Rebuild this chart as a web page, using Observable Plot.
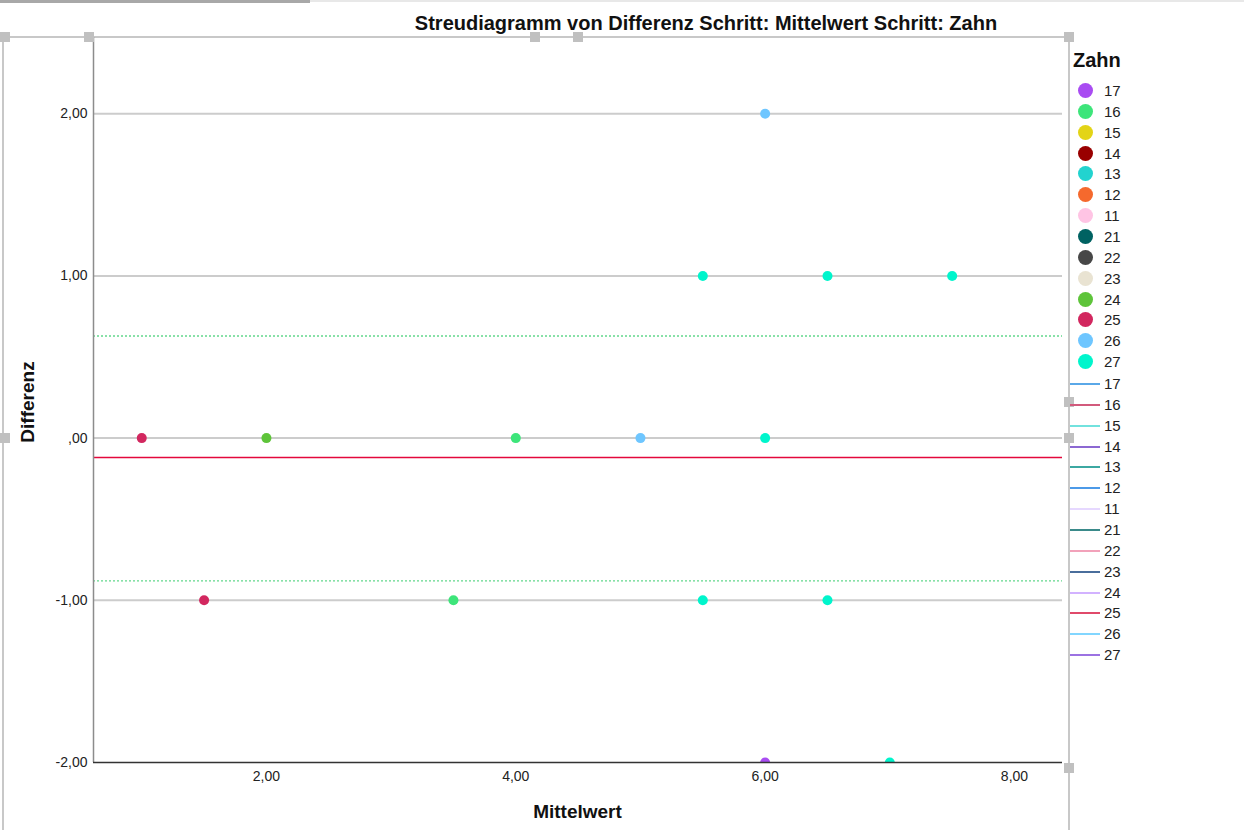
<!DOCTYPE html>
<html>
<head>
<meta charset="utf-8">
<script src="https://cdn.jsdelivr.net/npm/d3@7"></script>
<script src="https://cdn.jsdelivr.net/npm/@observablehq/plot@0.6"></script>
<style>
  html, body { margin: 0; padding: 0; background: #fff; }
  body { font-family: "Liberation Sans", Arial, sans-serif; color: #111; }
  #wrap { position: relative; width: 1244px; height: 830px; overflow: hidden; }
  #chart { position: absolute; left: 0; top: 0; }
  .deco { position: absolute; background: #c8c8c8; }
  .handle { position: absolute; width: 10px; height: 10px; background: #c0c0c0; }
  #title { position: absolute; left: 0; width: 1412px; text-align: center; top: 12px; font-weight: bold; font-size: 20px; white-space: nowrap; }
  #xlabel { position: absolute; left: 0; width: 1155px; text-align: center; top: 801px; font-weight: bold; font-size: 19px; }
  #ylabel { position: absolute; left: 28px; top: 402px; font-weight: bold; font-size: 19px; transform: translate(-50%, -50%) rotate(-90deg); white-space: nowrap; }
  #legend { position: absolute; left: 1062px; top: 0; width: 182px; height: 830px; }
  #legend .lt { position: absolute; left: 11px; top: 49px; font-weight: bold; font-size: 20px; }
  #legend .row { position: absolute; left: 0; height: 20px; width: 170px; }
  #legend .row .sw { position: absolute; }
  #legend .row .lb { position: absolute; left: 42px; top: 1px; font-size: 15px; color: #222; line-height: 18px; }
</style>
</head>
<body>
<div id="wrap">
  <div class="deco" style="left:0;top:0;width:310px;height:3px;background:#a8a8a8"></div>
  <div class="deco" style="left:310px;top:0;width:934px;height:2px;background:#e8e8e8"></div>
  <div class="deco" style="left:0;top:36px;width:1071px;height:2px"></div>
  <div class="deco" style="left:2px;top:36px;width:2px;height:794px"></div>
  <div class="deco" style="left:1068px;top:36px;width:2px;height:794px"></div>
  <div id="chart"></div>
  <div class="handle" style="left:0;top:32px"></div>
  <div class="handle" style="left:84px;top:32px"></div>
  <div class="handle" style="left:530px;top:32px"></div>
  <div class="handle" style="left:573px;top:32px"></div>
  <div class="handle" style="left:1064px;top:32px"></div>
  <div class="handle" style="left:0;top:433px"></div>
  <div class="handle" style="left:1064px;top:397px"></div>
  <div class="handle" style="left:1064px;top:433px"></div>
  <div class="handle" style="left:1064px;top:763px"></div>
  <div id="title">Streudiagramm von Differenz Schritt: Mittelwert Schritt: Zahn</div>
  <div id="xlabel">Mittelwert</div>
  <div id="ylabel">Differenz</div>
  <div id="legend"></div>
</div>
<script>
// ---- Data ----
const teeth = ["17","16","15","14","13","12","11","21","22","23","24","25","26","27"];
const pointColors = ["#a94cf2","#3de57a","#e3d416","#990000","#22d3cf","#f5692d","#ffc4e4","#006262","#474747","#e9e3d2","#5ec43a","#d2275f","#6ec6ff","#00f5cc"];
const lineColors  = ["#5aa8e8","#d25a7c","#72e2de","#8c68d2","#3ca8a2","#4c9ae8","#e6d8ff","#3a8a8a","#f2a2ba","#4a6e9c","#d2b2ff","#e04a6a","#82d6ff","#9c72e2"];

const mittelwert = [6.0, 5.5, 6.5, 7.5, 1.0, 2.0, 4.0, 5.0, 6.0, 1.5, 3.5, 5.5, 6.5, 6.0, 7.0];
const differenz  = [2, 1, 1, 1, 0, 0, 0, 0, 0, -1, -1, -1, -1, -2, -2];
const zahn       = ["26","27","27","27","25","24","16","26","27","25","16","27","27","17","27"];

const meanDiff = -0.12;
const limits = [0.63, -0.88];

const xTicks = [2, 4, 6, 8];
const yTicks = [-2, -1, 0, 1, 2];
const xDomain = [0.613, 8.385];
const yDomain = [-2, 2.47];

// ---- Chart ----
const fmt = v => {
  const s = Math.abs(v).toFixed(2).replace(".", ",");
  return (v < 0 ? "-" : "") + (s.startsWith("0,") ? s.slice(1) : s);
};
const data = mittelwert.map((m, i) => ({ m, d: differenz[i], z: zahn[i] }));

const chart = Plot.plot({
  width: 1244,
  height: 830,
  marginLeft: 93,
  marginRight: 182,
  marginTop: 37,
  marginBottom: 68,
  x: { domain: xDomain },
  y: { domain: yDomain },
  color: { domain: teeth, range: pointColors },
  style: { fontFamily: "Liberation Sans, Arial, sans-serif", fontSize: "14px", color: "#222", background: "transparent" },
  marks: [
    Plot.ruleY(yTicks.filter(t => t > yDomain[0]), { stroke: "#cccccc", strokeWidth: 2 }),
    Plot.ruleY(limits, { stroke: "#62d88c", strokeWidth: 1.4, strokeDasharray: "2,2" }),
    Plot.ruleY([meanDiff], { stroke: "#e4083c", strokeWidth: 1.5 }),
    Plot.ruleX([xDomain[0]], { stroke: "#8c8c8c", strokeWidth: 1.5 }),
    Plot.dot(data, { x: "m", y: "d", fill: "z", r: 5, clip: true }),
    Plot.ruleY([yDomain[0]], { stroke: "#333", strokeWidth: 1.5 }),
    Plot.axisX({ ticks: xTicks, tickFormat: fmt, tickSize: 0, tickPadding: 9, label: null }),
    Plot.axisY({ ticks: yTicks, tickFormat: fmt, tickSize: 0, tickPadding: 6, label: null })
  ]
});
document.getElementById("chart").appendChild(chart);

// ---- Legend ----
const legend = document.getElementById("legend");
const lt = document.createElement("div");
lt.className = "lt"; lt.textContent = "Zahn";
legend.appendChild(lt);
const rowH = 20.85;
teeth.forEach((t, i) => {
  const row = document.createElement("div");
  row.className = "row";
  row.style.top = (81 + i * rowH) + "px";
  const sw = document.createElement("div");
  sw.className = "sw";
  Object.assign(sw.style, { left: "16px", top: "2px", width: "15px", height: "15px", borderRadius: "50%", background: pointColors[i] });
  row.appendChild(sw);
  const lb = document.createElement("div");
  lb.className = "lb"; lb.textContent = t;
  row.appendChild(lb);
  legend.appendChild(row);
});
teeth.forEach((t, i) => {
  const row = document.createElement("div");
  row.className = "row";
  row.style.top = (374 + i * rowH) + "px";
  const sw = document.createElement("div");
  sw.className = "sw";
  Object.assign(sw.style, { left: "8px", top: "9px", width: "30px", height: "2px", background: lineColors[i] });
  row.appendChild(sw);
  const lb = document.createElement("div");
  lb.className = "lb"; lb.textContent = t;
  row.appendChild(lb);
  legend.appendChild(row);
});
</script>
</body>
</html>
